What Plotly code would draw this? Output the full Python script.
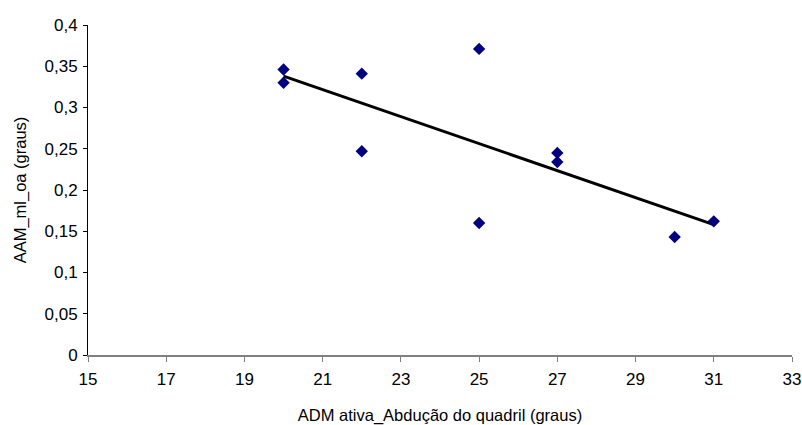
import numpy as np
import plotly.graph_objects as go

# Hip abduction range (degrees) vs. AAM_ml_oa (degrees)
adm_ativa = [20, 20, 22, 22, 25, 25, 27, 27, 30, 31]
aam_ml_oa = [0.346, 0.330, 0.341, 0.247, 0.371, 0.160, 0.245, 0.234, 0.143, 0.162]

x_ticks = [15, 17, 19, 21, 23, 25, 27, 29, 31, 33]
y_ticks = [0, 0.05, 0.1, 0.15, 0.2, 0.25, 0.3, 0.35, 0.4]
y_tick_text = ["0", "0,05", "0,1", "0,15", "0,2", "0,25", "0,3", "0,35", "0,4"]

# Linear least-squares trend line over the observed x span
slope, intercept = np.polyfit(adm_ativa, aam_ml_oa, 1)
trend_x = [min(adm_ativa), max(adm_ativa)]
trend_y = [slope * v + intercept for v in trend_x]

font_family = "Liberation Sans, Arial, sans-serif"

fig = go.Figure()
fig.add_trace(go.Scatter(
    x=trend_x, y=trend_y, mode="lines",
    line=dict(color="black", width=3),
    hoverinfo="skip", showlegend=False,
))
fig.add_trace(go.Scatter(
    x=adm_ativa, y=aam_ml_oa, mode="markers",
    marker=dict(symbol="diamond", color="#000080", size=9.5, line=dict(width=0)),
    showlegend=False,
))

fig.update_layout(
    width=802, height=425,
    margin=dict(l=88, r=10, t=25, b=70),
    plot_bgcolor="white", paper_bgcolor="white",
    font=dict(family=font_family, color="black", size=17),
    xaxis=dict(
        range=[15, 33], tickvals=x_ticks, ticktext=[str(v) for v in x_ticks],
        showgrid=False, zeroline=False, automargin=False,
        showline=True, linecolor="#808080", linewidth=1.5,
        ticks="outside", ticklen=5, tickcolor="#808080", tickwidth=1,
        ticklabelstandoff=3,
        tickfont=dict(size=17),
        title=dict(text="ADM ativa_Abdução do quadril (graus)",
                   font=dict(size=16.5), standoff=22),
    ),
    yaxis=dict(
        range=[0, 0.4], tickvals=y_ticks, ticktext=y_tick_text,
        showgrid=False, zeroline=False, automargin=False,
        showline=True, linecolor="black", linewidth=1,
        ticks="outside", ticklen=4, tickcolor="black", tickwidth=1,
        ticklabelstandoff=2,
        tickfont=dict(size=17),
        title=dict(text="AAM_ml_oa (graus)", font=dict(size=16.5), standoff=13),
    ),
)

fig.write_html("out.html")
